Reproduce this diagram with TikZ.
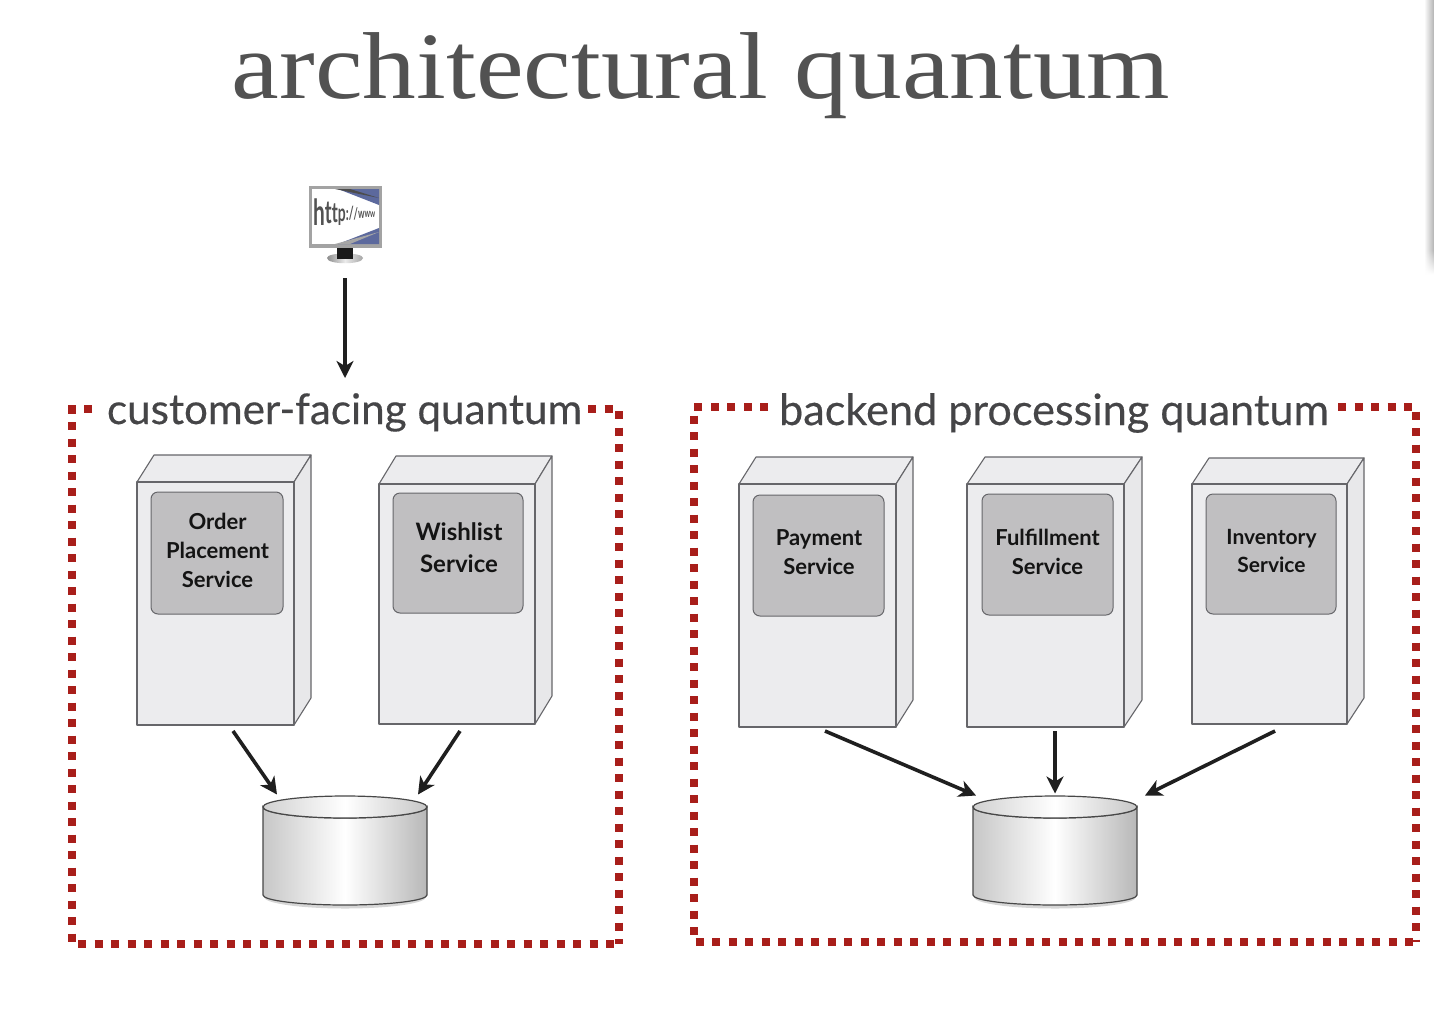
\documentclass[tikz,border=0pt]{standalone}
\usepackage{fontspec}
\setmainfont{Lato}
\newfontfamily\titlefont{Liberation Serif}
\newfontfamily\labelfont[FakeBold=0.35]{Lato}
\usetikzlibrary{calc,arrows.meta,fadings}
\definecolor{quantumred}{HTML}{A81E1A}
\definecolor{facecol}{HTML}{ECECEE}
\definecolor{sidecol}{HTML}{E8E8EA}
\definecolor{cardcol}{HTML}{C0BFC1}
\definecolor{edgecol}{HTML}{66666A}
\definecolor{inkcol}{HTML}{454547}
\definecolor{blueshade}{HTML}{3F4F8C}
\tikzfading[name=fadedown,top color=transparent!0,bottom color=transparent!100]
\tikzset{
  quantumbox/.style={draw=quantumred,line width=8pt,dash pattern=on 8pt off 8.5pt},
  face/.style={draw=edgecol,line width=1.1pt,fill=facecol,line join=round},
  frontface/.style={face,rectangle,inner sep=0pt,outer sep=0pt},
  card/.style={draw=edgecol,line width=1pt,fill=cardcol,rounded corners=7pt,rectangle,inner sep=0pt,outer sep=0pt},
  flow/.style={draw=black!88,line width=3.6pt,-{Stealth[length=17pt,width=17pt,inset=5pt]}},
  heading/.style={text=inkcol,inner sep=0pt,anchor=base},
  cardtext/.style={text=black!92,inner sep=0pt,align=center,anchor=center},
  dbghost/.style={rectangle,inner sep=0pt,outer sep=0pt,minimum width=164pt,minimum height=109pt},
}
\newcommand{\serverbox}[7]{%
  \fill[facecol,draw=edgecol,line width=1.1pt,line join=round] (#2,#4) -- (#2+#6-#3,#7) -- (#6,#7) -- (#3,#4) -- cycle;
  \fill[sidecol,draw=edgecol,line width=1.1pt,line join=round] (#3,#4) -- (#6,#7) -- (#6,#5+#7-#4) -- (#3,#5) -- cycle;
  \node[frontface,minimum width=#3pt-#2pt,minimum height=#5pt-#4pt,anchor=north west] (#1) at (#2,#4) {};
}
\newcommand{\cardbox}[5]{%
  \node[card,minimum width=#3pt-#2pt,minimum height=#5pt-#4pt,anchor=north west] (#1) at (#2,#4) {};
}
\newcommand{\dbshape}[2]{% name, left x
  \node[dbghost] (#1) at (#2+82,851) {};
  \fill[black!45,opacity=.35] (#2+1,897) arc[start angle=180,end angle=0,x radius=81,y radius=11.5] -- cycle;
  \shade[left color=black!22,right color=black!28,middle color=white,draw=black!72,line width=1.2pt]
    (#2,807) -- (#2,895) arc[start angle=180,end angle=0,x radius=82,y radius=10] -- (#2+164,807) arc[start angle=0,end angle=180,x radius=82,y radius=11] -- cycle;
  \shade[left color=black!18,right color=black!22,middle color=white,draw=black!72,line width=1.2pt]
    (#2+82,807) ellipse[x radius=82,y radius=11];
}
\newcommand{\pch}[2]{{\fontsize{#1}{#1}\selectfont\raisebox{-.3em}{#2}}}
\begin{document}
\begin{tikzpicture}[x=1pt,y=-1pt]
\useasboundingbox (0,0) rectangle (1434,1020);
\fill[white] (0,0) rectangle (1434,1020);
% soft page shadow on the right edge
\shade[left color=white,right color=black!30] (1424,0) rectangle (1434,250);
\shade[left color=white,right color=black!30,path fading=fadedown] (1424,250) rectangle (1434,274);
% title
\node[heading,text=black!68] (title) at (701,98) {\titlefont\fontsize{95}{95}\selectfont\scalebox{1.129}[1]{architectural quantum}};
% monitor
\node[rectangle,inner sep=0pt,outer sep=0pt,minimum width=73pt,minimum height=77pt,anchor=north west] (monitor) at (309,186) {};
\shade[left color=black!45,right color=black!35,middle color=black!8] (327,258) .. controls (327,252) and (363,252) .. (363,258) .. controls (363,265) and (327,265) .. (327,258) -- cycle;
\fill[black!90] (337,247) rectangle (353,259);
\fill[black!36] (309,186) rectangle (382,248);
\fill[white] (312,189) rectangle (379,244);
\fill[blueshade!85] (338,189) -- (379,189) -- (379,205) -- cycle;
\fill[blueshade!85] (338,244) -- (379,244) -- (379,228) -- cycle;
\fill[black!70] (335,189) -- (350,189) -- (379,198) -- cycle;
\fill[black!35] (335,244) -- (350,244) -- (379,232) -- cycle;
\node[inner sep=0pt,anchor=west,text=black!68,font=\bfseries] (url) at (313,212)
  {\scalebox{.58}[1]{\pch{36}{h}\pch{32}{t}\pch{28}{t}\pch{24}{p}\pch{20}{:}\pch{18}{/}\pch{16}{/}\pch{14}{w}\pch{12}{w}\pch{11}{w}}};
% quantum borders
\coordinate (qa1) at (92,409);
\coordinate (qa2) at (72,409);
\coordinate (qa3) at (72,944);
\coordinate (qa4) at (619,944);
\coordinate (qa5) at (619,409);
\coordinate (qa6) at (588,409);
\draw[quantumbox] (qa1) -- (qa2) -- (qa3) -- (qa4);
\draw[quantumbox] (qa6) -- (qa5) -- (qa4);
\coordinate (qb1) at (768,407);
\coordinate (qb2) at (694,407);
\coordinate (qb3) at (694,942);
\coordinate (qb4) at (1416,942);
\coordinate (qb5) at (1416,407);
\coordinate (qb6) at (1338,407);
\draw[quantumbox] (qb1) -- (qb2) -- (qb3) -- (qb4);
\draw[quantumbox] (qb6) -- (qb5) -- (qb4);
\node[heading] (qalabel) at (344.5,424) {\labelfont\fontsize{42.2}{42}\selectfont customer-facing quantum};
\node[heading] (qblabel) at (1054,425) {\labelfont\fontsize{43.2}{43}\selectfont backend processing quantum};
% servers
\serverbox{order}{137}{294}{482}{725}{311}{455}
\serverbox{wish}{379}{535}{484}{724}{552}{456}
\serverbox{pay}{739}{896}{484}{727}{913}{457}
\serverbox{ful}{967}{1124}{484}{727}{1142}{457}
\serverbox{inv}{1192}{1347}{484}{724}{1364}{458}
% cards
\cardbox{orderc}{151}{283}{492}{614}
\cardbox{wishc}{393}{523}{493}{613}
\cardbox{payc}{753}{884}{495}{616}
\cardbox{fulc}{982}{1113}{494}{615}
\cardbox{invc}{1206}{1336}{494}{614}
\node[cardtext,font=\fontsize{22}{29}\selectfont\bfseries] (ordert) at ([shift={(0.5,-3)}]orderc.center) {Order\\Placement\\Service};
\node[cardtext,font=\fontsize{24}{32}\selectfont\bfseries] (wisht) at ([shift={(1,-5)}]wishc.center) {Wishlist\\Service};
\node[cardtext,font=\fontsize{22}{29}\selectfont\bfseries] (payt) at ([shift={(0.5,-3)}]payc.center) {Payment\\Service};
\node[cardtext,font=\fontsize{22}{29}\selectfont\bfseries] (fult) at ([shift={(0,-2.5)}]fulc.center) {Fulfillment\\Service};
\node[cardtext,font=\fontsize{21}{28}\selectfont\bfseries] (invt) at ([shift={(0.5,-3)}]invc.center) {Inventory\\Service};
% databases
\dbshape{dba}{263}
\dbshape{dbb}{973}
% arrows
\draw[flow] ([shift={(-0.5,15)}]monitor.south) -- ([shift={(0.5,-15)}]qalabel.north);
\draw[flow] ([shift={(17.5,6)}]order.south) -- ([shift={(-68,-2)}]dba.north);
\draw[flow] ([shift={(3,7)}]wish.south) -- ([shift={(73,-2)}]dba.north);
\draw[flow] ([shift={(7.5,4)}]pay.south) -- ([shift={(-79,-1)}]dbb.north);
\draw[flow] ([shift={(9.5,4)}]ful.south) -- ([shift={(0,-3)}]dbb.north);
\draw[flow] ([shift={(5.5,7)}]inv.south) -- ([shift={(90,-1)}]dbb.north);
\end{tikzpicture}
\end{document}
